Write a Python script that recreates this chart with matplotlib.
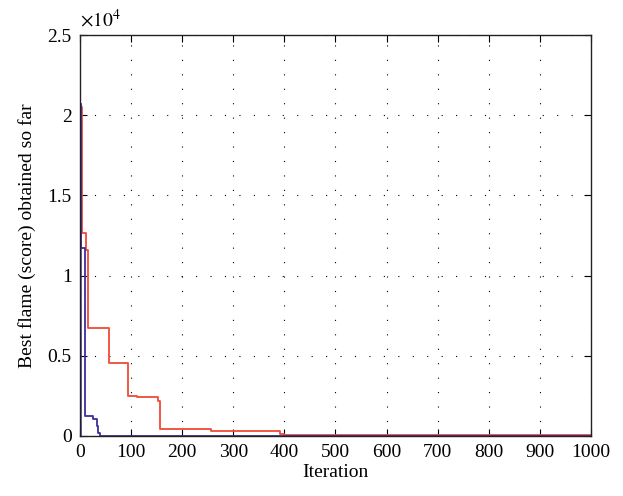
import matplotlib
matplotlib.use('Agg')
import matplotlib.pyplot as plt

# convergence curves (iteration, best score), step-wise
blue_iter = [0, 2, 9, 25, 34, 36, 39, 1000]
blue_score = [20700, 11700, 1250, 1050, 600, 200, 10, 10]

red_iter = [0, 3, 12, 16, 57, 94, 112, 153, 157, 256, 382, 392, 400, 1000]
red_score = [20500, 12650, 11600, 6750, 4550, 2500, 2400, 2200, 450, 330, 280, 120, 40, 30]

yticks = [0, 5000, 10000, 15000, 20000, 25000]
ytick_labels = ['0', '0.5', '1', '1.5', '2', '2.5']
xticks = list(range(0, 1001, 100))

plt.rcParams['font.family'] = ['Liberation Serif', 'DejaVu Serif']
plt.rcParams['mathtext.fontset'] = 'stix'
plt.rcParams['font.size'] = 14

fig = plt.figure(figsize=(6.23, 4.96), dpi=100)
ax = fig.add_axes([0.1284, 0.121, 0.8202, 0.8084])

ax.step(red_iter, red_score, where='post', color='#f04a35', lw=1.3)
ax.step(blue_iter, blue_score, where='post', color='#3a2f9e', lw=1.3)
# initial drop at iteration 0
ax.plot([0, 0], [0, blue_score[0]], color='#4b3190', lw=1.8)

ax.set_xlim(0, 1000)
ax.set_ylim(0, 25000)
ax.set_xticks(xticks)
ax.set_yticks(yticks)
ax.set_yticklabels(ytick_labels)
ax.tick_params(direction='in', top=True, right=True, length=5, width=0.8, pad=6)
ax.grid(True, color='black', linestyle=(0, (1, 12)), lw=0.8)
for s in ax.spines.values():
    s.set_linewidth(1.0)
    s.set_color('#222222')

ax.text(0.0, 1.012, r'$\times10^4$', transform=ax.transAxes, fontsize=14, ha='left', va='bottom')
ax.set_xlabel('Iteration', labelpad=2)
ax.set_ylabel('Best flame (score) obtained so far', labelpad=8)

fig.savefig('out.png', dpi=100)
